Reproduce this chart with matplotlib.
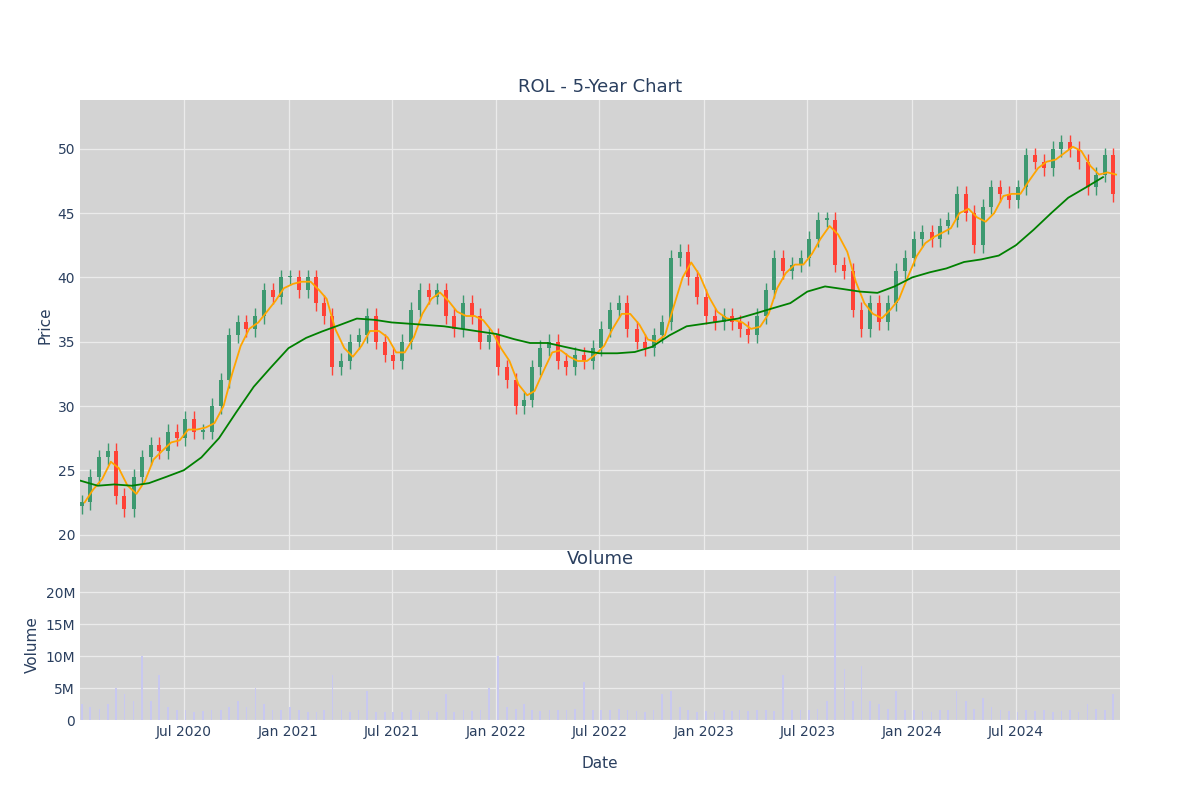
import matplotlib
matplotlib.use("Agg")
import matplotlib.pyplot as plt
import matplotlib.dates as mdates
import numpy as np
import pandas as pd

INK = "#2a3f5f"
BG = "#d3d3d3"
UP = "#3D9970"
DOWN = "#FF4136"

# semi-monthly closes, Jan 2020 .. Dec 2024
closes = [
    22.5, 24.5, 26, 26.5, 23, 22, 24.5, 26, 27, 26.5, 28, 27.5,
    29, 28, 28, 30, 32, 35.5, 36.5, 36, 37, 39, 38.5, 40,
    40, 39, 40, 38, 37, 33, 33.5, 35, 35.5, 37, 35, 34,
    33.5, 35, 37.5, 39, 38.5, 39, 37, 36, 38, 37, 35, 35.5,
    33, 32, 30, 30.5, 33, 34.5, 35, 33.5, 33, 34, 33.5, 34.5,
    36, 37.5, 38, 36, 35, 34.5, 35.5, 36.5, 41.5, 42, 40, 38.5,
    37, 36.5, 37, 36.5, 36, 35.5, 37, 39, 41.5, 40.5, 41, 41.5,
    43, 44.5, 44.5, 41, 40.5, 37.5, 36, 38, 36.5, 38, 40.5, 41.5,
    43, 43.5, 43, 44, 44.5, 46.5, 45, 42.5, 45.5, 47, 46.5, 46,
    47, 49.5, 49, 48.5, 50, 50.5, 50, 49, 47, 48, 49.5, 46.5,
]
opens = [22.2] + closes[:-1]

# semi-monthly volume (millions)
volume = [
    2.5, 2, 1.8, 2.5, 5, 4, 3, 10, 3, 7, 2, 1.5,
    1.5, 1.3, 1.4, 1.5, 1.6, 2, 3, 2, 5, 2.5, 1.5, 1.5,
    2, 1.5, 1.3, 1.2, 1.5, 7, 1.5, 1.3, 1.5, 4.5, 1.3, 1.2,
    1.3, 1.2, 1.5, 1.3, 1.4, 1.2, 4, 1.3, 1.5, 1.4, 1.5, 5,
    10, 2, 1.8, 2.5, 1.5, 1.4, 1.5, 1.6, 1.5, 1.7, 6, 1.5,
    1.5, 1.6, 1.8, 1.5, 1.4, 1.3, 1.5, 4, 4.5, 2, 1.5, 1.3,
    1.4, 1.3, 1.5, 1.4, 1.5, 1.4, 1.6, 1.5, 1.4, 7, 1.5, 1.6,
    1.5, 1.7, 3, 22.5, 8, 3, 8.5, 3, 2.5, 1.8, 4.5, 1.5,
    1.5, 1.4, 1.3, 1.5, 1.6, 4.5, 3, 1.8, 3.5, 2, 1.5, 1.4,
    1.3, 1.5, 1.4, 1.5, 1.3, 1.4, 1.5, 1.3, 2.5, 1.8, 1.5, 4,
]

# monthly 200-day moving average, Jan 2020 .. Dec 2024
ma200 = [
    24.2, 23.8, 23.9, 23.8, 24, 24.5, 25, 26, 27.5, 29.5, 31.5, 33,
    34.5, 35.3, 35.8, 36.3, 36.8, 36.7, 36.5, 36.4, 36.3, 36.2, 36, 35.8,
    35.6, 35.2, 34.9, 34.9, 34.6, 34.3, 34.1, 34.1, 34.2, 34.6, 35.5, 36.2,
    36.4, 36.6, 36.8, 37.2, 37.6, 38, 38.9, 39.3, 39.1, 38.9, 38.8, 39.3,
    40, 40.4, 40.7, 41.2, 41.4, 41.7, 42.5, 43.7, 45, 46.2, 47, 47.8,
]

dates = []
for y in range(2020, 2025):
    for m in range(1, 13):
        dates.append(pd.Timestamp(y, m, 4))
        dates.append(pd.Timestamp(y, m, 19))
dates = pd.DatetimeIndex(dates)
ma_dates = pd.DatetimeIndex([pd.Timestamp(y, m, 1) for y in range(2020, 2025) for m in range(1, 13)])
ma20 = pd.Series(closes).rolling(3, min_periods=1).mean()

plt.rcParams.update({"font.family": "DejaVu Sans", "text.color": INK})
fig = plt.figure(figsize=(12, 8), dpi=100)
ax = fig.add_axes([0.0667, 0.3125, 0.8667, 0.5625])
axv = fig.add_axes([0.0667, 0.1, 0.8667, 0.1875], sharex=ax)

for a in (ax, axv):
    a.set_facecolor(BG)
    a.grid(True, color="#ebebeb", linewidth=0.9)
    a.set_axisbelow(True)
    for s in a.spines.values():
        s.set_visible(False)
    a.tick_params(colors=INK, length=0, labelsize=10)

w = 7
for d, o, c in zip(dates, opens, closes):
    col = UP if c >= o else DOWN
    lo, hi = min(o, c), max(o, c)
    ax.vlines(d, lo - 0.6, hi + 0.6, color=col, linewidth=1)
    ax.bar(d, max(hi - lo, 0.15), bottom=lo, width=w, color=col, linewidth=0)
ax.plot(dates + pd.Timedelta(days=5), ma20, color="orange", linewidth=1.3)
ax.plot(ma_dates, ma200, color="green", linewidth=1.3)
ax.set_ylim(18.8, 53.8)
ax.set_yticks([20, 25, 30, 35, 40, 45, 50])
ax.set_ylabel("Price", color=INK, fontsize=11)
ax.set_title("ROL - 5-Year Chart", color=INK, fontsize=13)
plt.setp(ax.get_xticklabels(), visible=False)

axv.bar(dates, np.array(volume) * 1e6, width=3, color="#c8c8f0", linewidth=0)
axv.set_ylim(0, 23.5e6)
axv.set_yticks([0, 5e6, 10e6, 15e6, 20e6])
axv.set_yticklabels(["0", "5M", "10M", "15M", "20M"])
axv.set_ylabel("Volume", color=INK, fontsize=11)
axv.set_title("Volume", color=INK, fontsize=13, pad=4)
axv.set_xlabel("Date", color=INK, fontsize=11, labelpad=12)
axv.set_xlim(pd.Timestamp(2020, 1, 1), pd.Timestamp(2024, 12, 31))
ticks = [pd.Timestamp(y, m, 1) for y in range(2020, 2025) for m in (1, 7)][1:]
axv.set_xticks(ticks)
axv.xaxis.set_major_formatter(mdates.DateFormatter("%b %Y"))

fig.savefig("out.png", dpi=100)
